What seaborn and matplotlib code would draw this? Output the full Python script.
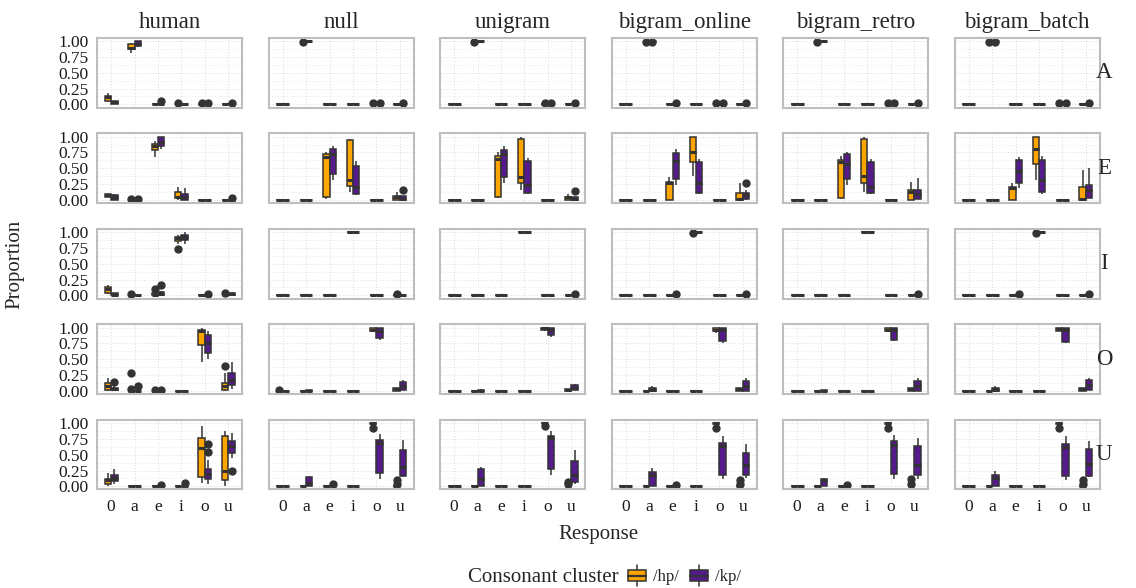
import numpy as np
import pandas as pd
import matplotlib
matplotlib.use("Agg")
import matplotlib.pyplot as plt
import seaborn as sns
from matplotlib.legend_handler import HandlerBase
from matplotlib.patches import Rectangle, Patch
from matplotlib.lines import Line2D

# ---------------- data ----------------
models = ["human", "null", "unigram", "bigram_online", "bigram_retro", "bigram_batch"]
stimuli = ["A", "E", "I", "O", "U"]
responses = ["0", "a", "e", "i", "o", "u"]
clusters = ["/hp/", "/kp/"]
cluster_colors = ["#FFA500", "#551A8B"]

# box summaries: (lower whisker, Q1, median, Q3, upper whisker, [outliers])
Z = (0, 0, 0, 0, 0, [])
ONE = (1, 1, 1, 1, 1, [])

def dot(v):
    return (0, 0, 0, 0, 0, v)

# key: (stimulus vowel, response) -> (/hp/ box, /kp/ box)
human_boxes = {
    ("A", "0"): ((0.03, 0.05, 0.11, 0.13, 0.18, []), (0.0, 0.01, 0.03, 0.05, 0.06, [])),
    ("A", "a"): ((0.81, 0.87, 0.89, 0.95, 0.97, []), (0.90, 0.92, 0.96, 1.0, 1.0, [])),
    ("A", "e"): (Z, dot([0.06])),
    ("A", "i"): (dot([0.02]), Z),
    ("A", "o"): (dot([0.02]), dot([0.02])),
    ("A", "u"): (Z, dot([0.02])),
    ("E", "0"): ((0.04, 0.04, 0.08, 0.10, 0.10, []), (0.0, 0.0, 0.04, 0.08, 0.10, [])),
    ("E", "a"): (dot([0.02]), dot([0.02])),
    ("E", "e"): ((0.68, 0.79, 0.85, 0.88, 0.93, []), (0.80, 0.86, 0.92, 0.99, 1.0, [])),
    ("E", "i"): ((0.0, 0.03, 0.05, 0.13, 0.21, []), (0.0, 0.0, 0.05, 0.10, 0.19, [])),
    ("E", "u"): (Z, dot([0.03])),
    ("I", "0"): ((0.02, 0.04, 0.10, 0.13, 0.16, []), (0.0, 0.0, 0.01, 0.03, 0.04, [])),
    ("I", "a"): (dot([0.02]), Z),
    ("I", "e"): ((0.0, 0.0, 0.01, 0.03, 0.10, []), (0.0, 0.0, 0.02, 0.05, 0.07, [0.17])),
    ("I", "i"): ((0.82, 0.86, 0.90, 0.93, 0.96, [0.74]), (0.82, 0.88, 0.93, 0.96, 1.0, [])),
    ("I", "o"): (Z, dot([0.02])),
    ("I", "u"): (dot([0.03]), (0.0, 0.0, 0.02, 0.04, 0.05, [])),
    ("O", "0"): ((0.0, 0.02, 0.08, 0.12, 0.21, []), (0.0, 0.01, 0.03, 0.05, 0.07, [0.14])),
    ("O", "a"): (dot([0.03, 0.29]), dot([0.08])),
    ("O", "e"): (dot([0.02]), dot([0.02])),
    ("O", "o"): ((0.45, 0.72, 0.94, 0.96, 1.0, []), (0.51, 0.60, 0.76, 0.89, 0.95, [])),
    ("O", "u"): ((0.0, 0.01, 0.07, 0.13, 0.28, [0.39]), (0.03, 0.09, 0.17, 0.29, 0.45, [])),
    ("U", "0"): ((0.0, 0.03, 0.10, 0.12, 0.21, []), (0.03, 0.08, 0.13, 0.18, 0.28, [])),
    ("U", "e"): (Z, dot([0.02])),
    ("U", "i"): (Z, dot([0.05])),
    ("U", "o"): ((0.06, 0.15, 0.61, 0.76, 0.96, []), (0.03, 0.11, 0.20, 0.28, 0.41, [0.55, 0.67])),
    ("U", "u"): ((0.0, 0.10, 0.25, 0.79, 0.87, []), (0.45, 0.53, 0.64, 0.71, 0.84, [0.25])),
}

null_boxes = {
    ("A", "a"): ((1, 1, 1, 1, 1, [0.98]), ONE),
    ("A", "o"): (dot([0.02]), dot([0.02])),
    ("A", "u"): (Z, dot([0.02])),
    ("E", "e"): ((0.02, 0.04, 0.68, 0.72, 0.76, []), (0.32, 0.41, 0.72, 0.80, 0.86, [])),
    ("E", "i"): ((0.12, 0.22, 0.32, 0.95, 0.97, []), (0.08, 0.10, 0.20, 0.54, 0.61, [])),
    ("E", "u"): ((0.0, 0.0, 0.04, 0.06, 0.12, []), (0.0, 0.0, 0.01, 0.06, 0.06, [0.16])),
    ("I", "e"): ((0.0, 0.0, 0.0, 0.01, 0.01, []), Z),
    ("I", "i"): (ONE, ONE),
    ("I", "u"): (dot([0.02]), Z),
    ("O", "0"): (dot([0.01]), Z),
    ("O", "a"): (Z, (0.0, 0.0, 0.0, 0.01, 0.02, [])),
    ("O", "o"): ((0.93, 0.94, 0.97, 1.0, 1.0, []), (0.81, 0.83, 0.95, 0.99, 1.0, [])),
    ("O", "u"): ((0.0, 0.0, 0.03, 0.05, 0.05, []), (0.01, 0.01, 0.08, 0.14, 0.17, [])),
    ("U", "a"): (Z, (0.0, 0.0, 0.05, 0.15, 0.16, [])),
    ("U", "e"): (Z, dot([0.03])),
    ("U", "i"): (Z, (0.0, 0.0, 0.0, 0.01, 0.01, [])),
    ("U", "o"): ((0.99, 0.99, 1.0, 1.0, 1.0, [0.92]), (0.12, 0.21, 0.68, 0.73, 0.83, [])),
    ("U", "u"): (dot([0.03, 0.10]), (0.15, 0.16, 0.31, 0.58, 0.74, [])),
}

unigram_boxes = {
    ("A", "a"): ((1, 1, 1, 1, 1, [0.98]), ONE),
    ("A", "o"): (dot([0.02]), dot([0.02])),
    ("A", "u"): (Z, dot([0.02])),
    ("E", "e"): ((0.03, 0.04, 0.65, 0.69, 0.75, []), (0.27, 0.36, 0.72, 0.79, 0.85, [])),
    ("E", "i"): ((0.15, 0.26, 0.36, 0.96, 1.0, []), (0.10, 0.11, 0.24, 0.61, 0.66, [])),
    ("E", "u"): ((0.0, 0.0, 0.04, 0.05, 0.10, []), (0.0, 0.0, 0.02, 0.04, 0.04, [0.14])),
    ("I", "i"): (ONE, ONE),
    ("I", "u"): (Z, dot([0.02])),
    ("O", "a"): (Z, (0.0, 0.0, 0.0, 0.02, 0.03, [])),
    ("O", "o"): ((0.95, 0.96, 0.99, 1.0, 1.0, []), (0.86, 0.89, 0.97, 0.99, 1.0, [])),
    ("O", "u"): ((0.0, 0.0, 0.01, 0.03, 0.03, []), (0.01, 0.016, 0.05, 0.09, 0.11, [])),
    ("U", "a"): (Z, (0.0, 0.0, 0.12, 0.27, 0.31, [])),
    ("U", "i"): (Z, (0.0, 0.0, 0.0, 0.01, 0.01, [])),
    ("U", "o"): ((1, 1, 1, 1, 1, [0.95]), (0.18, 0.28, 0.77, 0.80, 0.87, [])),
    ("U", "u"): (dot([0.03, 0.07]), (0.04, 0.07, 0.18, 0.40, 0.57, [])),
}

bigram_online_boxes = {
    ("A", "a"): ((1, 1, 1, 1, 1, [0.99]), (1, 1, 1, 1, 1, [0.99])),
    ("A", "e"): (Z, dot([0.02])),
    ("A", "o"): (dot([0.02]), dot([0.02])),
    ("A", "u"): (Z, dot([0.02])),
    ("E", "e"): ((0.0, 0.0, 0.27, 0.29, 0.36, []), (0.23, 0.33, 0.62, 0.74, 0.80, [])),
    ("E", "i"): ((0.37, 0.60, 0.76, 0.99, 1.0, []), (0.10, 0.11, 0.27, 0.60, 0.65, [])),
    ("E", "u"): ((0.0, 0.0, 0.02, 0.11, 0.26, []), (0.0, 0.02, 0.08, 0.11, 0.16, [0.27])),
    ("I", "e"): (Z, dot([0.02])),
    ("I", "i"): ((1, 1, 1, 1, 1, [0.99]), ONE),
    ("I", "u"): (Z, dot([0.02])),
    ("O", "a"): (Z, (0.0, 0.0, 0.01, 0.05, 0.08, [])),
    ("O", "o"): ((0.92, 0.94, 0.97, 1.0, 1.0, []), (0.75, 0.79, 0.97, 1.0, 1.0, [])),
    ("O", "u"): ((0.0, 0.0, 0.03, 0.05, 0.05, []), (0.0, 0.0, 0.08, 0.16, 0.20, [])),
    ("U", "a"): (Z, (0.0, 0.0, 0.18, 0.23, 0.29, [])),
    ("U", "e"): (Z, dot([0.02])),
    ("U", "i"): (Z, (0.0, 0.0, 0.0, 0.01, 0.01, [])),
    ("U", "o"): ((0.99, 0.99, 1.0, 1.0, 1.0, [0.92]), (0.11, 0.18, 0.64, 0.68, 0.79, [])),
    ("U", "u"): (dot([0.03, 0.10]), (0.13, 0.18, 0.34, 0.52, 0.67, [])),
}

bigram_retro_boxes = {
    ("A", "a"): ((1, 1, 1, 1, 1, [0.98]), ONE),
    ("A", "o"): (dot([0.02]), dot([0.02])),
    ("A", "u"): (Z, dot([0.02])),
    ("E", "e"): ((0.02, 0.03, 0.60, 0.63, 0.70, []), (0.23, 0.33, 0.57, 0.73, 0.76, [])),
    ("E", "i"): ((0.12, 0.26, 0.37, 0.96, 0.99, []), (0.10, 0.11, 0.21, 0.60, 0.65, [])),
    ("E", "u"): ((0.0, 0.0, 0.13, 0.15, 0.28, []), (0.02, 0.02, 0.10, 0.16, 0.35, [])),
    ("I", "i"): (ONE, ONE),
    ("I", "u"): (Z, dot([0.02])),
    ("O", "a"): (Z, (0.0, 0.0, 0.0, 0.01, 0.02, [])),
    ("O", "o"): ((0.93, 0.94, 0.97, 1.0, 1.0, []), (0.79, 0.80, 0.96, 1.0, 1.0, [])),
    ("O", "u"): ((0.0, 0.0, 0.03, 0.05, 0.05, []), (0.0, 0.0, 0.08, 0.16, 0.20, [])),
    ("U", "a"): (Z, (0.0, 0.0, 0.10, 0.12, 0.13, [])),
    ("U", "e"): (Z, dot([0.02])),
    ("U", "i"): (Z, (0.0, 0.0, 0.0, 0.01, 0.01, [])),
    ("U", "o"): ((0.99, 0.99, 1.0, 1.0, 1.0, [0.92]), (0.12, 0.20, 0.65, 0.72, 0.82, [])),
    ("U", "u"): (dot([0.03, 0.12]), (0.11, 0.18, 0.34, 0.64, 0.77, [])),
}

bigram_batch_boxes = {
    ("A", "a"): ((1, 1, 1, 1, 1, [0.99]), (1, 1, 1, 1, 1, [0.99])),
    ("A", "o"): (dot([0.02]), dot([0.02])),
    ("A", "u"): (Z, dot([0.02])),
    ("E", "e"): ((0.0, 0.0, 0.18, 0.20, 0.26, []), (0.18, 0.26, 0.45, 0.63, 0.68, [])),
    ("E", "i"): ((0.32, 0.57, 0.81, 0.99, 1.0, []), (0.10, 0.12, 0.32, 0.63, 0.69, [])),
    ("E", "u"): ((0.0, 0.0, 0.01, 0.21, 0.47, []), (0.03, 0.03, 0.15, 0.24, 0.50, [])),
    ("I", "e"): (Z, dot([0.02])),
    ("I", "i"): ((1, 1, 1, 1, 1, [0.99]), ONE),
    ("I", "u"): (Z, dot([0.02])),
    ("O", "a"): (Z, (0.0, 0.0, 0.01, 0.04, 0.07, [])),
    ("O", "o"): ((0.94, 0.95, 0.98, 1.0, 1.0, []), (0.75, 0.78, 0.97, 1.0, 1.0, [])),
    ("O", "u"): ((0.0, 0.0, 0.03, 0.05, 0.05, []), (0.01, 0.01, 0.10, 0.17, 0.21, [])),
    ("U", "a"): (Z, (0.0, 0.0, 0.13, 0.18, 0.24, [])),
    ("U", "o"): ((0.99, 0.99, 1.0, 1.0, 1.0, [0.92]), (0.10, 0.16, 0.63, 0.67, 0.79, [])),
    ("U", "u"): (dot([0.03, 0.10]), (0.15, 0.16, 0.36, 0.59, 0.72, [])),
}

model_boxes = {
    "human": human_boxes, "null": null_boxes, "unigram": unigram_boxes,
    "bigram_online": bigram_online_boxes, "bigram_retro": bigram_retro_boxes,
    "bigram_batch": bigram_batch_boxes,
}


def expand(box):
    """21 values whose quartiles/whiskers/outliers reproduce the box summary."""
    lo, q1, med, q3, hi, outs = box
    low = sorted(o for o in outs if o < q1)
    high = sorted(o for o in outs if o > q3)
    return (low + [lo] + [q1] * (5 - len(low)) + [med] * 5 + [q3] * 5
            + [q3] * (4 - len(high)) + [hi] + high)


rows = []
for m in models:
    for s in stimuli:
        for r in responses:
            pair = model_boxes[m].get((s, r), (Z, Z))
            for c, box in zip(clusters, pair):
                for v in expand(box):
                    rows.append((m, s, r, c, v))
df = pd.DataFrame(rows, columns=["model", "stimulus", "response", "cluster", "value"])

# ---------------- plot ----------------
sns.set_style("white")
plt.rcParams["font.family"] = ["Liberation Serif", "DejaVu Serif"]

EDGE = "#333333"
fig, axes = plt.subplots(5, 6, figsize=(11.36, 5.88), dpi=100)
fig.subplots_adjust(left=97 / 1136, right=1100 / 1136, top=1 - 38 / 588,
                    bottom=1 - 489.5 / 588, wspace=0.179, hspace=0.374)

for i, s in enumerate(stimuli):
    for j, m in enumerate(models):
        ax = axes[i, j]
        sub = df[(df.model == m) & (df.stimulus == s)]
        sns.boxplot(data=sub, x="response", y="value", hue="cluster",
                    order=responses, hue_order=clusters, palette=cluster_colors,
                    saturation=1, width=0.55, gap=0, linewidth=1.1,
                    linecolor=EDGE, fliersize=5, whis=1.5, showcaps=False,
                    flierprops={"marker": "o", "markerfacecolor": EDGE,
                                "markeredgecolor": EDGE},
                    medianprops={"linewidth": 2.2, "color": EDGE},
                    legend=False, ax=ax)
        ax.set_xlim(-0.6, 5.6)
        ax.set_ylim(-0.05, 1.05)
        ax.set_xlabel("")
        ax.set_ylabel("")
        ax.set_facecolor("white")
        ax.set_yticks([0, 0.25, 0.5, 0.75, 1.0])
        ax.set_yticks([0.125, 0.375, 0.625, 0.875], minor=True)
        ax.set_xticks(range(len(responses)))
        ax.set_xticklabels(responses)
        ax.grid(which="major", color="#DADADA", linestyle=(0, (1, 2)), linewidth=0.7)
        ax.grid(which="minor", axis="y", color="#E4E4E4", linestyle=(0, (1, 2)), linewidth=0.6)
        ax.set_axisbelow(True)
        ax.tick_params(axis="y", which="minor", length=0)
        if j == 0:
            ax.set_yticklabels(["0.00", "0.25", "0.50", "0.75", "1.00"])
            ax.tick_params(axis="y", length=4, width=1, color=EDGE,
                           labelsize=12.5, pad=2, labelcolor="#1A1A1A")
        else:
            ax.tick_params(axis="y", length=0, labelleft=False)
        if i == len(stimuli) - 1:
            ax.tick_params(axis="x", length=4, width=1, color=EDGE,
                           labelsize=12.5, pad=3, labelcolor="#1A1A1A")
        else:
            ax.tick_params(axis="x", length=0, labelbottom=False)
        for sp in ax.spines.values():
            sp.set_color("#BEBEBE")
            sp.set_linewidth(1.5)
        if i == 0:
            ax.set_title(m, fontsize=16.5, pad=7)
        if j == len(models) - 1:
            ax.text(1.028, 0.5, s, transform=ax.transAxes, ha="center",
                    va="center", fontsize=16.5)

fig.text(15 / 1136, 1 - 264 / 588, "Proportion", rotation=90, ha="center",
         va="center", fontsize=15)
fig.text(598 / 1136, 1 - 535 / 588, "Response", ha="center", va="center",
         fontsize=15)


class BoxKey(HandlerBase):
    def create_artists(self, legend, orig_handle, xdescent, ydescent,
                       width, height, fontsize, trans):
        fc = orig_handle.get_facecolor()
        x0, y0 = -xdescent, -ydescent
        rect = Rectangle((x0 + 0.08 * width, y0 + 0.1 * height), 0.84 * width,
                         0.8 * height, facecolor=fc, edgecolor=EDGE, lw=1.1,
                         transform=trans)
        med = Line2D([x0 + 0.08 * width, x0 + 0.92 * width],
                     [y0 + 0.5 * height] * 2, color=EDGE, lw=1.6, transform=trans)
        xm = x0 + 0.5 * width
        w1 = Line2D([xm, xm], [y0 - 0.25 * height, y0 + 0.1 * height],
                    color=EDGE, lw=1.1, transform=trans)
        w2 = Line2D([xm, xm], [y0 + 0.9 * height, y0 + 1.25 * height],
                    color=EDGE, lw=1.1, transform=trans)
        return [w1, w2, rect, med]


fig.text(619 / 1136, 1 - 577 / 588, "Consonant cluster", ha="right",
         va="center", fontsize=15)
handles = [Patch(facecolor=c) for c in cluster_colors]
fig.legend(handles, clusters, handler_map={Patch: BoxKey()},
           loc="center left", bbox_to_anchor=(626 / 1136, 1 - 577 / 588),
           ncol=2, frameon=False, fontsize=12, handlelength=1.3,
           handleheight=0.9, handletextpad=0.3, columnspacing=0.6,
           borderpad=0, borderaxespad=0)

fig.savefig("out.png", dpi=100)
